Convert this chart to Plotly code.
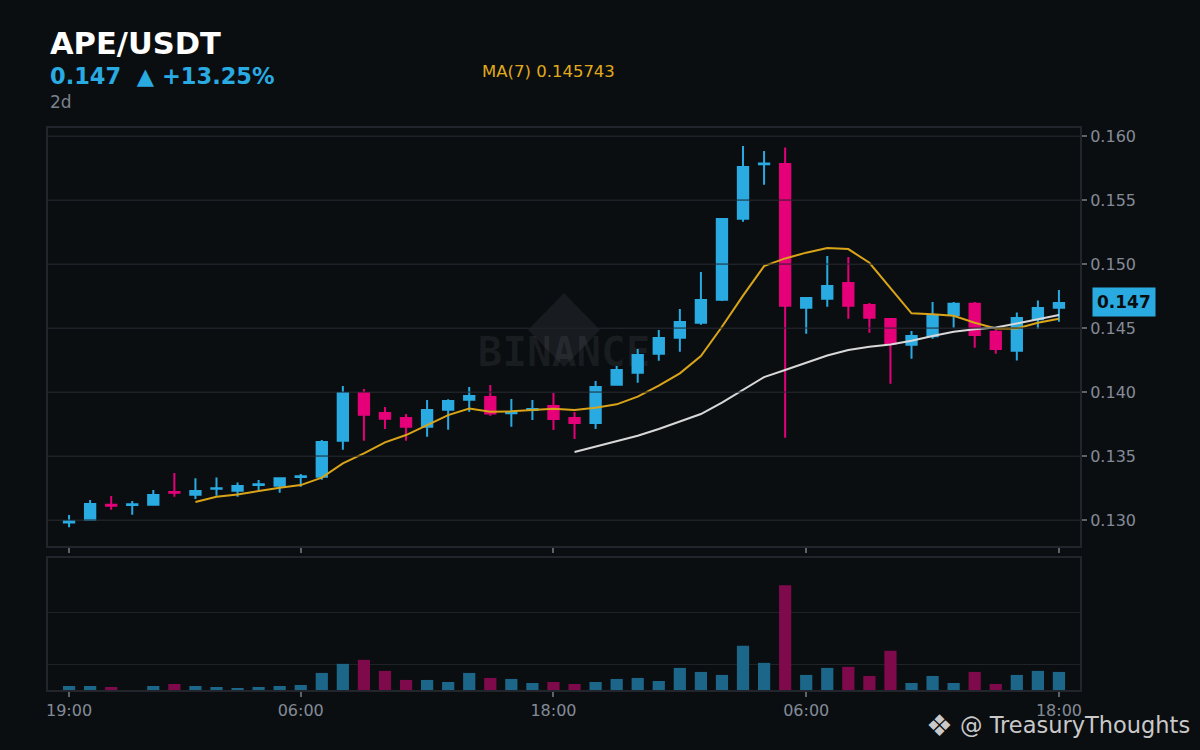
import plotly.graph_objects as go
import pandas as pd

# ---------------- data ----------------
times = pd.date_range("2023-10-23 19:00", periods=48, freq="h")

opens = [0.12980, 0.13003, 0.13120, 0.13118, 0.13120, 0.13220, 0.13198, 0.13244,
         0.13229, 0.13273, 0.13268, 0.13337, 0.13339, 0.13620, 0.13992, 0.13836,
         0.13797, 0.13729, 0.13862, 0.13940, 0.13961, 0.13835, 0.13860, 0.13891,
         0.13797, 0.13758, 0.14057, 0.14151, 0.14300, 0.14424, 0.14542, 0.14721,
         0.15354, 0.15780, 0.15781, 0.14659, 0.14729, 0.14852, 0.14680, 0.14570,
         0.14370, 0.14435, 0.14602, 0.14690, 0.14471, 0.14323, 0.14568, 0.14659]
highs = [0.13039, 0.13156, 0.13188, 0.13148, 0.13234, 0.13367, 0.13326, 0.13333,
         0.13294, 0.13313, 0.13333, 0.13359, 0.13625, 0.14047, 0.14023, 0.13883,
         0.13828, 0.13938, 0.13943, 0.14039, 0.14055, 0.13945, 0.13938, 0.13992,
         0.13844, 0.14086, 0.14203, 0.14336, 0.14484, 0.14648, 0.14938, 0.15359,
         0.15922, 0.15883, 0.15911, 0.14740, 0.15063, 0.15055, 0.14695, 0.14578,
         0.14477, 0.14703, 0.14703, 0.14703, 0.14484, 0.14622, 0.14716, 0.14797]
lows = [0.12943, 0.12995, 0.13081, 0.13042, 0.13112, 0.13182, 0.13164, 0.13190,
        0.13182, 0.13234, 0.13214, 0.13260, 0.13315, 0.13550, 0.13620, 0.13711,
        0.13620, 0.13651, 0.13706, 0.13846, 0.13815, 0.13729, 0.13781, 0.13703,
        0.13633, 0.13711, 0.14050, 0.14073, 0.14245, 0.14315, 0.14526, 0.14711,
        0.15331, 0.15620, 0.13643, 0.14456, 0.14667, 0.14573, 0.14464, 0.14065,
        0.14260, 0.14417, 0.14503, 0.14346, 0.14300, 0.14247, 0.14495, 0.14550]
closes = [0.12990, 0.13125, 0.13112, 0.13124, 0.13195, 0.13213, 0.13227, 0.13249,
          0.13266, 0.13279, 0.13326, 0.13342, 0.13609, 0.13992, 0.13823, 0.13792,
          0.13729, 0.13859, 0.13930, 0.13969, 0.13833, 0.13841, 0.13868, 0.13789,
          0.13758, 0.14039, 0.14172, 0.14289, 0.14422, 0.14547, 0.14719, 0.15352,
          0.15758, 0.15786, 0.14674, 0.14734, 0.14828, 0.14674, 0.14581, 0.14378,
          0.14438, 0.14602, 0.14690, 0.14445, 0.14336, 0.14578, 0.14656, 0.14695]

volumes = [0.596, 0.596, 0.577, 0.520, 0.596, 0.635, 0.596, 0.577,
           0.558, 0.577, 0.596, 0.615, 0.846, 1.019, 1.096, 0.885,
           0.712, 0.712, 0.673, 0.846, 0.750, 0.731, 0.654, 0.673,
           0.635, 0.673, 0.731, 0.750, 0.692, 0.942, 0.865, 0.808,
           1.365, 1.038, 2.519, 0.808, 0.942, 0.962, 0.788, 1.269,
           0.654, 0.788, 0.654, 0.865, 0.635, 0.808, 0.885, 0.865]

ma7_start = 6
ma7 = [0.13141, 0.13182, 0.13200, 0.13227, 0.13253, 0.13273, 0.13331, 0.13443,
       0.13521, 0.13607, 0.13664, 0.13742, 0.13820, 0.13872, 0.13846, 0.13849,
       0.13860, 0.13870, 0.13860, 0.13878, 0.13904, 0.13964, 0.14050, 0.14146,
       0.14281, 0.14510, 0.14753, 0.14984, 0.15044, 0.15089, 0.15125, 0.15117,
       0.15010, 0.14815, 0.14615, 0.14607, 0.14596, 0.14542, 0.14497, 0.14497,
       0.14542, 0.14573]
ma25_start = 24
ma25 = [0.13531, 0.13573, 0.13612, 0.13659, 0.13711, 0.13768, 0.13828, 0.13917,
        0.14016, 0.14117, 0.14172, 0.14229, 0.14286, 0.14328, 0.14354, 0.14372,
        0.14401, 0.14438, 0.14471, 0.14490, 0.14505, 0.14536, 0.14570, 0.14602]

price_ticks = [0.130, 0.135, 0.140, 0.145, 0.150, 0.155, 0.160]
time_tick_idx = [0, 11, 23, 35, 47]
time_tick_labels = ["19:00", "06:00", "18:00", "06:00", "18:00"]

title_text = "APE/USDT"
change_text = "0.147  ▲ +13.25%"
period_text = "2d"
ma_text = "MA(7) 0.145743"
last_price_text = "0.147"
last_price = 0.147

# ---------------- styles ----------------
BG = "#0b0e11"
GRID = "#1f2328"
FRAME = "#22262c"
TICK = "#838b97"
UP = "#29abe2"
DOWN = "#e5007a"
VOL_UP = "#1c6689"
VOL_DOWN = "#7e0a4c"
MA7_C = "#d9a418"
MA25_C = "#d8d8d8"

hour = pd.Timedelta(hours=1)
x_range = [times[0] - hour, times[-1] + hour]
tick_vals = [times[i] for i in time_tick_idx]
vol_colors = [VOL_UP if c >= o else VOL_DOWN for o, c in zip(opens, closes)]

fig = go.Figure()

fig.add_trace(go.Candlestick(
    x=times, open=opens, high=highs, low=lows, close=closes,
    increasing=dict(line=dict(color=UP, width=2), fillcolor=UP),
    decreasing=dict(line=dict(color=DOWN, width=2), fillcolor=DOWN),
    whiskerwidth=0, xaxis="x", yaxis="y", showlegend=False, hoverinfo="skip"))

fig.add_trace(go.Scatter(x=times[ma7_start:], y=ma7, mode="lines",
                         line=dict(color=MA7_C, width=2), xaxis="x", yaxis="y",
                         showlegend=False, hoverinfo="skip"))
fig.add_trace(go.Scatter(x=times[ma25_start:], y=ma25, mode="lines",
                         line=dict(color=MA25_C, width=2), xaxis="x", yaxis="y",
                         showlegend=False, hoverinfo="skip"))

fig.add_trace(go.Bar(x=times, y=volumes, marker=dict(color=vol_colors, line=dict(width=0)),
                     width=0.58 * 3600 * 1000, xaxis="x2", yaxis="y2",
                     showlegend=False, hoverinfo="skip"))

axis_common = dict(showline=True, mirror=True, linecolor=FRAME, linewidth=2, zeroline=False)

fig.update_layout(
    width=1200, height=750,
    paper_bgcolor=BG, plot_bgcolor="rgba(0,0,0,0)",
    margin=dict(l=48, r=120, t=128, b=60),
    showlegend=False,
    font=dict(family="DejaVu Sans", color=TICK, size=16),
    xaxis=dict(domain=[0, 1], anchor="y", range=x_range, showgrid=False,
               showticklabels=False, ticks="outside", ticklen=5, tickwidth=2,
               tickcolor="#5d636c", tickvals=tick_vals,
               rangeslider=dict(visible=False), **axis_common),
    yaxis=dict(domain=[0.2562, 1], anchor="x", side="right", range=[0.12797, 0.16063],
               tickvals=price_ticks, tickformat=".3f", ticks="outside", ticklen=5,
               tickwidth=2, tickcolor="#5d636c", gridcolor=GRID, gridwidth=1,
               tickfont=dict(size=16, color=TICK), **axis_common),
    xaxis2=dict(domain=[0, 1], anchor="y2", matches="x", range=x_range, showgrid=False,
                tickvals=tick_vals, ticktext=time_tick_labels, ticks="outside",
                ticklen=5, tickwidth=2, tickcolor="#5d636c",
                tickfont=dict(size=16, color=TICK), **axis_common),
    yaxis2=dict(domain=[0, 0.2349], anchor="x2", side="right", range=[0.52, 3.04],
                tickvals=[1, 2], showticklabels=False, ticks="", gridcolor=GRID,
                **axis_common),
)

# watermark (diamond + BINANCE text), beneath everything
fig.add_shape(type="path", xref="paper", yref="paper",
              path="M 0.5,0.7064 L 0.5349,0.6406 L 0.5,0.5748 L 0.4651,0.6406 Z",
              fillcolor="#181b1f", line=dict(width=0), layer="below")
fig.add_shape(type="rect", xref="paper", yref="paper", x0=0.35, x1=0.65, y0=0.575, y1=0.639,
              line=dict(width=0), fillcolor="rgba(0,0,0,0)", layer="below",
              label=dict(text="<b>BINANCE</b>",
                         font=dict(family="DejaVu Sans Mono", size=41,
                                   color="rgba(255,255,255,0.06)"),
                         textposition="middle center"))

# gridlines drawn over the candle bodies
for v in price_ticks:
    fig.add_shape(type="line", xref="x domain", yref="y", x0=0, x1=1, y0=v, y1=v,
                  line=dict(color=GRID, width=1), layer="above")

# header texts
fig.add_annotation(xref="paper", yref="paper", x=0, y=1.1512, xanchor="left", yanchor="middle",
                   text="<b>" + title_text + "</b>", showarrow=False,
                   font=dict(size=30.5, color="#ffffff", family="DejaVu Sans"))
fig.add_annotation(xref="paper", yref="paper", x=0, y=1.0925, xanchor="left", yanchor="middle",
                   text="<b>" + change_text + "</b>", showarrow=False,
                   font=dict(size=22.5, color=UP, family="DejaVu Sans"))
fig.add_annotation(xref="paper", yref="paper", x=0, y=1.0463, xanchor="left", yanchor="middle",
                   text=period_text, showarrow=False,
                   font=dict(size=17, color="#7a828d", family="DejaVu Sans"))
fig.add_annotation(xref="paper", yref="paper", x=0.4186, y=1.1014, xanchor="left", yanchor="middle",
                   text=ma_text, showarrow=False,
                   font=dict(size=16.5, color="#e0aa1c", family="DejaVu Sans"))

# last price badge
fig.add_annotation(xref="paper", yref="y", x=1.0431, y=last_price, xanchor="center",
                   yanchor="middle", text="<b>" + last_price_text + "</b>", showarrow=False,
                   bgcolor=UP, borderpad=4,
                   font=dict(size=17, color="#0b0e11", family="DejaVu Sans"))

# bottom-right signature
fig.add_annotation(xref="paper", yref="paper", x=1.1085, y=-0.0623, xanchor="right",
                   yanchor="middle", text="@ TreasuryThoughts", showarrow=False,
                   font=dict(size=22.5, color="#c9c9c9", family="DejaVu Sans"))
fig.add_annotation(xref="paper", yref="paper", x=0.8643, y=-0.0623, xanchor="center",
                   yanchor="middle", text="❖", showarrow=False,
                   font=dict(size=30, color="#c9c9c9", family="DejaVu Sans"))

fig.write_html("out.html", config={"displayModeBar": False},
               post_script="document.body.style.margin='0';document.body.style.overflow='hidden';")
